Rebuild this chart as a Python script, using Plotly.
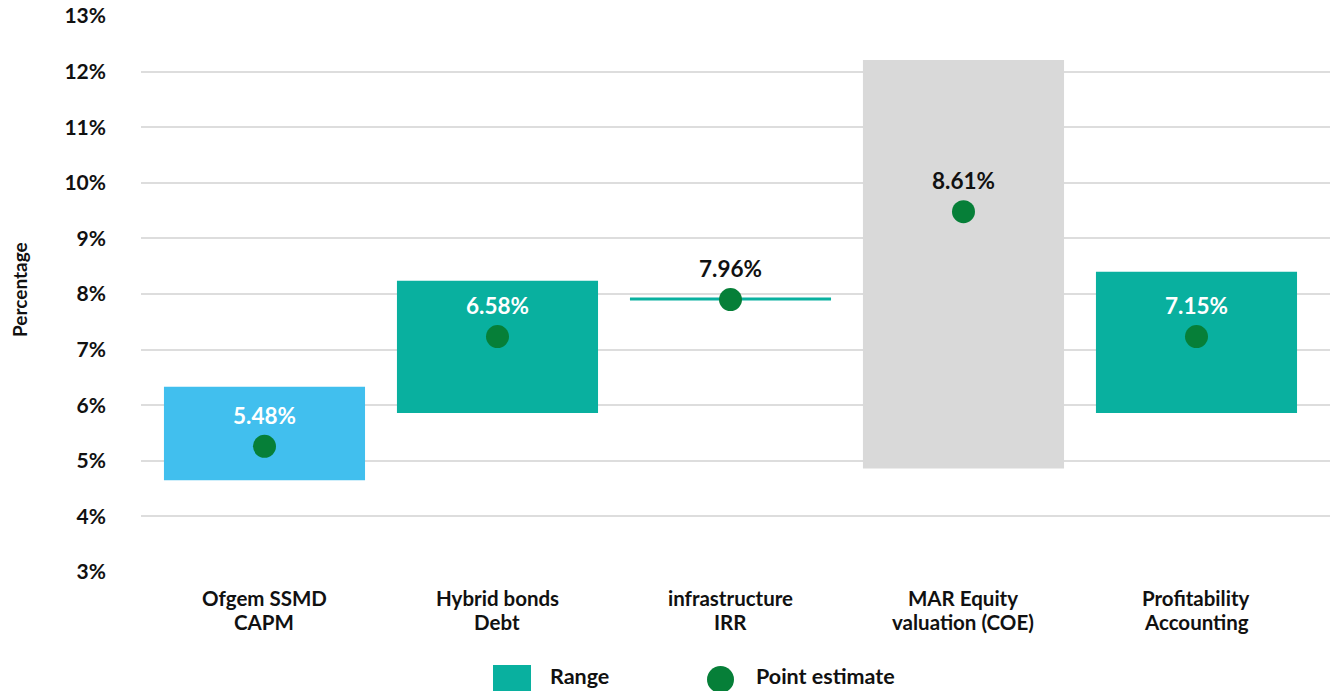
import plotly.graph_objects as go

categories = [("Ofgem SSMD", "CAPM"), ("Hybrid bonds", "Debt"), ("infrastructure", "IRR"),
              ("MAR Equity", "valuation (COE)"), ("Profitability", "Accounting")]
range_low = [4.65, 5.86, 7.91, 4.86, 5.86]
range_high = [6.33, 8.24, 7.91, 12.21, 8.40]
point_estimate = [5.26, 7.235, 7.90, 9.48, 7.235]
point_labels = ["5.48%", "6.58%", "7.96%", "8.61%", "7.15%"]
y_ticks = [3, 4, 5, 6, 7, 8, 9, 10, 11, 12, 13]

BLUE = "#41BFEE"
TEAL = "#09B09F"
GREY = "#D9D9D9"
GREEN = "#067F38"
range_colors = [BLUE, TEAL, TEAL, GREY, TEAL]
label_colors = ["white", "white", "#111111", "#111111", "white"]

FONT = "Lato"
W, H = 1332, 691
ML, MR, MT, MB = 141, 2, 16, 119

x_idx = list(range(len(categories)))
bar_w = 0.863

fig = go.Figure()

bx, by, bb, bc = [], [], [], []
for i, (lo, hi, c) in enumerate(zip(range_low, range_high, range_colors)):
    if hi > lo:
        bx.append(i); by.append(hi - lo); bb.append(lo); bc.append(c)
fig.add_trace(go.Bar(x=bx, y=by, base=bb, width=bar_w, marker=dict(color=bc, line=dict(width=0)),
                     showlegend=False, hoverinfo="skip"))

for i, (lo, hi, c) in enumerate(zip(range_low, range_high, range_colors)):
    if hi == lo:
        fig.add_trace(go.Scatter(x=[i - bar_w / 2, i + bar_w / 2], y=[lo, hi], mode="lines",
                                 line=dict(color=c, width=3), showlegend=False, hoverinfo="skip"))

fig.add_trace(go.Scatter(x=x_idx, y=point_estimate, mode="markers",
                         marker=dict(color=GREEN, size=23, line=dict(width=0)),
                         showlegend=False))

for i, (v, t, c) in enumerate(zip(point_estimate, point_labels, label_colors)):
    fig.add_annotation(x=i, y=v, text=t, showarrow=False, yshift=31,
                       font=dict(family=FONT, size=22.5, color=c, weight="bold"))

ph = H - MT - MB
pw = W - ML - MR
def px_x(x):
    return (x - ML) / pw
def px_y(y):
    return (H - MB - y) / ph

for i, (l1, l2) in enumerate(categories):
    for txt, yy in ((l1, 598), (l2, 622)):
        fig.add_annotation(x=i, xref="x", yref="paper", y=px_y(yy), text=txt, showarrow=False,
                           xanchor="center", yanchor="middle",
                           font=dict(family=FONT, size=20.5, color="#111111", weight="bold"))

fig.add_shape(type="rect", xref="paper", yref="paper",
              x0=px_x(493), x1=px_x(531), y0=px_y(700), y1=px_y(665),
              fillcolor=TEAL, line=dict(width=0))
fig.add_annotation(xref="paper", yref="paper", x=px_x(548), y=px_y(691), text="Range",
                   showarrow=False, xanchor="left", yanchor="bottom",
                   font=dict(family=FONT, size=21.5, color="#111111", weight="bold"))
fig.add_shape(type="circle", xref="paper", yref="paper",
              x0=px_x(707), x1=px_x(734), y0=px_y(693), y1=px_y(666),
              fillcolor=GREEN, line=dict(width=0))
fig.add_annotation(xref="paper", yref="paper", x=px_x(754), y=px_y(691), text="Point estimate",
                   showarrow=False, xanchor="left", yanchor="bottom",
                   font=dict(family=FONT, size=21.5, color="#111111", weight="bold"))

fig.add_annotation(xref="paper", yref="paper", x=px_x(19), y=px_y(290), text="Percentage",
                   showarrow=False, textangle=-90, xanchor="center", yanchor="middle",
                   font=dict(family=FONT, size=19, color="#111111", weight="bold"))

fig.update_layout(
    width=W, height=H,
    margin=dict(l=ML, r=MR, t=MT, b=MB),
    plot_bgcolor="white", paper_bgcolor="white",
    font=dict(family=FONT, color="#111111"),
    showlegend=False,
    xaxis=dict(range=[-0.530, 4.573], tickvals=x_idx, showticklabels=False,
               showgrid=False, zeroline=False, showline=False, ticks="",
               fixedrange=True),
    yaxis=dict(range=[3, 13], tickvals=y_ticks, ticktext=[f"{v}%" for v in y_ticks],
               showgrid=True, gridcolor="#DDDDDD", gridwidth=2, zeroline=False,
               showline=False, ticks="", ticklabelstandoff=34,
               tickfont=dict(family=FONT, size=21, color="#111111", weight="bold"),
               fixedrange=True),
)

fig.write_html("out.html")
